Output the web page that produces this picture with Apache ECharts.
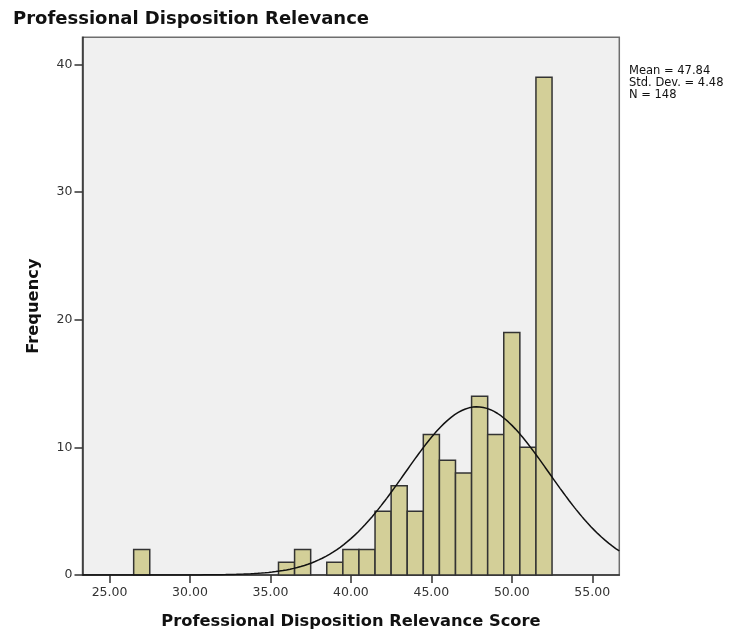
<!DOCTYPE html>
<html>
<head>
<meta charset="utf-8">
<script src="https://cdn.jsdelivr.net/npm/echarts@6/dist/echarts.min.js"></script>
<style>
  html, body { margin: 0; padding: 0; background: #ffffff; }
  #chart { width: 740px; height: 635px; }
</style>
</head>
<body>
<div id="chart"></div>
<script>
// Score bins (width 1, centred on integer scores) and their frequencies
const binCenters = [27, 36, 37, 39, 40, 41, 42, 43, 44, 45, 46, 47, 48, 49, 50, 51, 52];
const frequencies = [2, 1, 2, 1, 2, 2, 5, 7, 5, 11, 9, 8, 14, 11, 19, 10, 39];

// Summary statistics shown beside the plot
const statMean = 47.84;
const statStdDev = 4.48;
const statN = 148;
const statLines = ['Mean = 47.84', 'Std. Dev. = 4.48', 'N = 148'];

// Axis tick labels
const xTicks = [25, 30, 35, 40, 45, 50, 55];
const yTicks = [0, 10, 20, 30, 40];

const xMin = 23.32, xMax = 56.68;
const yMax = 42.13;
const binWidth = 1;

// Normal curve scaled to counts: N * binWidth * pdf(x)
const curve = [];
const steps = 300;
for (let i = 0; i <= steps; i++) {
  const x = xMin + (xMax - xMin) * i / steps;
  const z = (x - statMean) / statStdDev;
  const y = statN * binWidth * Math.exp(-0.5 * z * z) / (statStdDev * Math.sqrt(2 * Math.PI));
  curve.push([x, y]);
}

const barData = binCenters.map((c, i) => [c, frequencies[i]]);

const chart = echarts.init(document.getElementById('chart'), null, { renderer: 'canvas' });

const font = 'DejaVu Sans';

chart.setOption({
  animation: false,
  backgroundColor: '#ffffff',
  title: {
    text: 'Professional Disposition Relevance',
    left: 8,
    top: 5,
    textStyle: { fontFamily: font, fontSize: 18, fontWeight: 'bold', color: '#111111' }
  },
  grid: {
    left: 82.5, right: 120.7, top: 37.3, bottom: 59.3,
    show: true,
    backgroundColor: '#f0f0f0',
    borderColor: '#6e6e6e',
    borderWidth: 1.5
  },
  xAxis: {
    type: 'value',
    min: xMin,
    max: xMax,
    name: 'Professional Disposition Relevance Score',
    nameLocation: 'middle',
    nameGap: 39,
    nameTextStyle: { fontFamily: font, fontSize: 16.3, fontWeight: 'bold', color: '#111111' },
    axisLine: { show: true, onZero: false, lineStyle: { color: '#333333', width: 1.5 } },
    axisTick: { show: true, customValues: xTicks, length: 8, lineStyle: { color: '#333333', width: 1.5 } },
    axisLabel: {
      customValues: xTicks,
      formatter: v => v.toFixed(2),
      margin: 11,
      fontFamily: font, fontSize: 12.5, color: '#333333'
    },
    splitLine: { show: false }
  },
  yAxis: {
    type: 'value',
    min: 0,
    max: yMax,
    name: 'Frequency',
    nameLocation: 'middle',
    nameGap: 41,
    nameTextStyle: { fontFamily: font, fontSize: 16.3, fontWeight: 'bold', color: '#111111' },
    axisLine: { show: true, lineStyle: { color: '#333333', width: 1.5 } },
    axisTick: { show: true, customValues: yTicks, length: 8, lineStyle: { color: '#333333', width: 1.5 } },
    axisLabel: {
      customValues: yTicks,
      margin: 10,
      fontFamily: font, fontSize: 12.5, color: '#333333'
    },
    splitLine: { show: false }
  },
  series: [
    {
      type: 'custom',
      data: barData,
      encode: { x: 0, y: 1 },
      renderItem: function (params, api) {
        const c = api.value(0);
        const v = api.value(1);
        const p0 = api.coord([c - binWidth / 2, 0]);
        const p1 = api.coord([c + binWidth / 2, v]);
        return {
          type: 'rect',
          shape: { x: p0[0], y: p1[1], width: p1[0] - p0[0], height: p0[1] - p1[1] },
          style: { fill: '#d3cf98', stroke: '#333333', lineWidth: 1.5 }
        };
      },
      z: 2
    },
    {
      type: 'line',
      data: curve,
      showSymbol: false,
      smooth: false,
      lineStyle: { color: '#111111', width: 1.5 },
      z: 3
    }
  ],
  graphic: [
    {
      type: 'text',
      left: 629,
      top: 65,
      style: {
        text: statLines.join('\n'),
        fontFamily: font,
        fontSize: 11.5,
        lineHeight: 12,
        fill: '#111111'
      }
    }
  ]
});
</script>
</body>
</html>
